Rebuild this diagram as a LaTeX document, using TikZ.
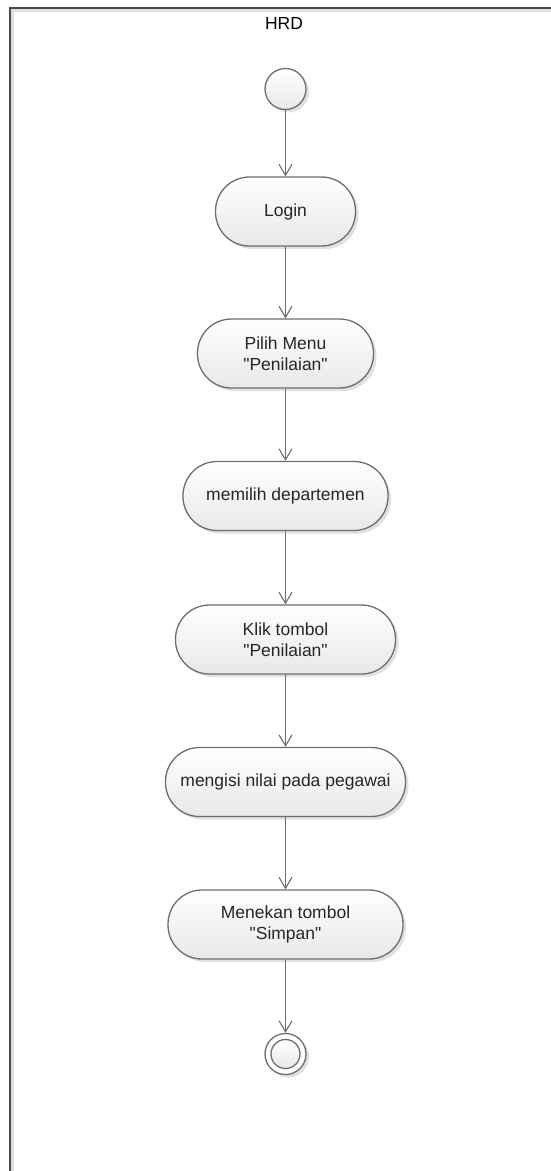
\documentclass[tikz,border=0pt]{standalone}
\usepackage{fontspec}
\setmainfont{Liberation Sans}[Ligatures=TeXOff]
\usetikzlibrary{arrows.meta,shadows}
\definecolor{edge}{HTML}{6E6E6E}
\definecolor{txt}{HTML}{262626}
\definecolor{frm}{HTML}{4A4A4A}
\tikzset{
  act/.style={draw=edge, line width=1.3pt, rounded corners=34pt, minimum height=69pt,
    top color=white, bottom color=black!9, text=txt, align=center,
    font=\fontsize{17.5pt}{20.7pt}\selectfont, inner sep=0pt,
    drop shadow={shadow xshift=3pt, shadow yshift=-3pt, opacity=0.12, fill=black}},
  flow/.style={draw=edge, line width=1.1pt, -{Straight Barb[length=11pt,width=13pt,line width=1.1pt]}},
  startnode/.style={circle, draw=edge, line width=1.3pt, minimum size=41pt, inner sep=0pt,
    top color=white, bottom color=black!9,
    drop shadow={shadow xshift=3pt, shadow yshift=-3pt, opacity=0.12, fill=black}},
  endnode/.style={circle, draw=edge, line width=1.3pt, minimum size=41pt, inner sep=0pt,
    fill=white,
    drop shadow={shadow xshift=3pt, shadow yshift=-3pt, opacity=0.12, fill=black}},
}
\begin{document}
\begin{tikzpicture}[x=1pt,y=-1pt]
\useasboundingbox (0,0) rectangle (550,1171);
\fill[white] (0,0) rectangle (550,1171);
% frame
\draw[line width=3pt, black!12] (12.5,1180) -- (12.5,10.5) -- (560,10.5);
\draw[line width=2pt, frm] (10,1180) -- (10,8) -- (560,8);
\node[font=\fontsize{17.5pt}{20pt}\selectfont, text=black] (title) at (284,23) {HRD};
% nodes
\node[startnode] (start) at (285.5,89) {};
\node[act, minimum width=140pt] (login) at (285.5,211.5) {Login};
\node[act, minimum width=176pt] (menu) at (285.5,353.5) {Pilih Menu\\"Penilaian"};
\node[act, minimum width=205pt] (dept) at (285.5,496) {memilih departemen};
\node[act, minimum width=220pt] (klik) at (285.5,639.5) {Klik tombol\\"Penilaian"};
\node[act, minimum width=240pt] (isi) at (285.5,782) {mengisi nilai pada pegawai};
\node[act, minimum width=235pt] (simpan) at (285.5,924.5) {Menekan tombol\\"Simpan"};
\node[endnode] (end) at (285.5,1054) {};
\draw[edge, line width=1.3pt, top color=white, bottom color=black!9] (end.center) circle (14.5pt);
% flows
\draw[flow] (start) -- (login);
\draw[flow] (login) -- (menu);
\draw[flow] (menu) -- (dept);
\draw[flow] (dept) -- (klik);
\draw[flow] (klik) -- (isi);
\draw[flow] (isi) -- (simpan);
\draw[flow] (simpan) -- (end);
\end{tikzpicture}
\end{document}
